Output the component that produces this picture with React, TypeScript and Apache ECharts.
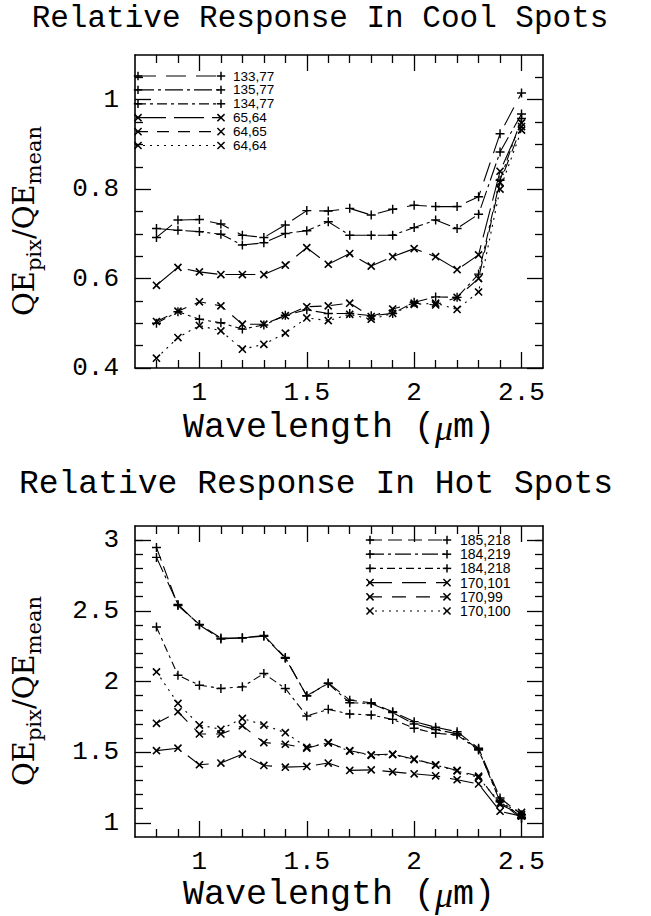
import React, { useEffect, useRef } from 'react';
import * as echarts from 'echarts';

// ---------- data ----------
const wavelengths = [0.8, 0.9, 1.0, 1.1, 1.2, 1.3, 1.4, 1.5, 1.6, 1.7, 1.8, 1.9, 2.0, 2.1, 2.2, 2.3, 2.4, 2.5];

const coolNames = ['133,77', '135,77', '134,77', '65,64', '64,65', '64,64'];
const coolMarkers = ['plus', 'plus', 'plus', 'cross', 'cross', 'cross'];
const cool_133_77 = [0.692, 0.731, 0.732, 0.722, 0.697, 0.692, 0.720, 0.752, 0.751, 0.757, 0.742, 0.755, 0.764, 0.761, 0.761, 0.783, 0.924, 1.015];
const cool_135_77 = [0.712, 0.708, 0.705, 0.699, 0.675, 0.680, 0.701, 0.707, 0.727, 0.697, 0.697, 0.697, 0.714, 0.731, 0.712, 0.744, 0.883, 0.968];
const cool_134_77 = [0.500, 0.526, 0.509, 0.501, 0.487, 0.496, 0.518, 0.530, 0.522, 0.522, 0.517, 0.522, 0.547, 0.559, 0.558, 0.610, 0.820, 0.958];
const cool_65_64 = [0.585, 0.625, 0.615, 0.609, 0.609, 0.609, 0.630, 0.669, 0.632, 0.656, 0.628, 0.649, 0.667, 0.649, 0.620, 0.653, 0.840, 0.948];
const cool_64_65 = [0.504, 0.527, 0.548, 0.539, 0.498, 0.498, 0.517, 0.537, 0.539, 0.545, 0.515, 0.532, 0.545, 0.541, 0.558, 0.600, 0.815, 0.940];
const cool_64_64 = [0.422, 0.468, 0.495, 0.483, 0.442, 0.453, 0.478, 0.512, 0.506, 0.520, 0.509, 0.522, 0.542, 0.545, 0.531, 0.570, 0.800, 0.932];

const hotNames = ['185,218', '184,219', '184,218', '170,101', '170,99', '170,100'];
const hotMarkers = ['plus', 'plus', 'plus', 'cross', 'cross', 'cross'];
const hot_185_218 = [2.948, 2.537, 2.404, 2.307, 2.307, 2.326, 2.170, 1.897, 1.990, 1.868, 1.850, 1.786, 1.716, 1.676, 1.645, 1.528, 1.176, 1.058];
const hot_184_219 = [2.878, 2.545, 2.400, 2.300, 2.310, 2.320, 2.165, 1.900, 1.985, 1.850, 1.845, 1.780, 1.700, 1.660, 1.630, 1.520, 1.150, 1.030];
const hot_184_218 = [2.385, 2.044, 1.974, 1.951, 1.962, 2.056, 1.951, 1.756, 1.803, 1.770, 1.763, 1.732, 1.669, 1.634, 1.622, 1.515, 1.160, 1.040];
const hot_170_101 = [1.511, 1.528, 1.411, 1.423, 1.486, 1.406, 1.394, 1.399, 1.423, 1.371, 1.375, 1.361, 1.347, 1.333, 1.305, 1.275, 1.082, 1.047];
const hot_170_99 = [1.704, 1.786, 1.629, 1.629, 1.687, 1.568, 1.556, 1.528, 1.568, 1.511, 1.481, 1.486, 1.451, 1.411, 1.371, 1.330, 1.130, 1.060];
const hot_170_100 = [2.068, 1.845, 1.692, 1.662, 1.739, 1.692, 1.638, 1.535, 1.565, 1.508, 1.478, 1.483, 1.448, 1.408, 1.368, 1.320, 1.141, 1.075];

const xMajorTicks = [1, 1.5, 2, 2.5];
const xMinorTicks = [0.8, 0.9, 1.1, 1.2, 1.3, 1.4, 1.6, 1.7, 1.8, 1.9, 2.1, 2.2, 2.3, 2.4];
const coolYMajor = [0.4, 0.6, 0.8, 1];
const coolYMinor = [0.45, 0.5, 0.55, 0.65, 0.7, 0.75, 0.85, 0.9, 0.95, 1.05];
const hotYMajor = [1, 1.5, 2, 2.5, 3];
const hotYMinor = [1.1, 1.2, 1.3, 1.4, 1.6, 1.7, 1.8, 1.9, 2.1, 2.2, 2.3, 2.4, 2.6, 2.7, 2.8, 2.9, 3.0];

const coolTitle = 'Relative Response In Cool Spots';
const hotTitle = 'Relative Response In Hot Spots';

// ---------- styles ----------
const coolDashes = [[20, 10], [18, 4, 3, 4], [10, 4, 3, 4], [30, 8], [12, 9], [2, 5]];
const hotDashes = [[14, 6], [16, 4, 3, 4], [8, 4, 3, 4], [24, 10], [14, 10], [2, 5]];

const PLUS = 'path://M4.2,0H5.8V4.2H10V5.8H5.8V10H4.2V5.8H0V4.2H4.2Z';
const MONO = '"Liberation Mono", monospace';

const G_LEFT = 135;
const G_WIDTH = 408;
const COOL_TOP = 55;
const COOL_H = 313;
const HOT_TOP = 526;
const HOT_H = 311;

function buildSeries(values: number[][], names: string[], markers: string[], dashes: number[][], idx: number) {
  return values.map((vals, i) => ({
    type: 'line',
    name: names[i],
    xAxisIndex: idx,
    yAxisIndex: idx,
    data: wavelengths.map((w, j) => [w, vals[j]]),
    symbol: PLUS,
    symbolSize: markers[i] === 'plus' ? 9 : 10,
    symbolRotate: markers[i] === 'cross' ? 45 : 0,
    showSymbol: true,
    itemStyle: { color: '#000' },
    lineStyle: { color: '#000', width: 1.1, type: dashes[i] },
    silent: true,
  }));
}

function xAxesFor(grid: number, main: boolean) {
  const ticks = main ? xMajorTicks : xMinorTicks;
  const len = main ? 16 : 8;
  const base = {
    type: 'value', gridIndex: grid, min: 0.7, max: 2.6,
    splitLine: { show: false },
    axisLine: { show: main, onZero: false, lineStyle: { color: '#000', width: 1.6 } },
    axisTick: { show: true, inside: true, length: len, customValues: ticks, lineStyle: { color: '#000', width: 1.3 } },
  };
  return [
    { ...base, position: 'bottom',
      axisLabel: main
        ? { show: true, customValues: xMajorTicks, margin: 12, color: '#000', fontFamily: MONO, fontSize: 26, lineHeight: 26 }
        : { show: false } },
    { ...base, position: 'top', axisLabel: { show: false } },
  ];
}

function yAxesFor(grid: number, main: boolean, min: number, max: number, major: number[], minor: number[]) {
  const ticks = main ? major : minor;
  const len = main ? 16 : 8;
  const base = {
    type: 'value', gridIndex: grid, min, max,
    splitLine: { show: false },
    axisLine: { show: main, onZero: false, lineStyle: { color: '#000', width: 1.6 } },
    axisTick: { show: true, inside: true, length: len, customValues: ticks, lineStyle: { color: '#000', width: 1.3 } },
  };
  return [
    { ...base, position: 'left',
      axisLabel: main
        ? { show: true, customValues: major, margin: 16, color: '#000', fontFamily: MONO, fontSize: 26 }
        : { show: false } },
    { ...base, position: 'right', axisLabel: { show: false } },
  ];
}

function markerGraphics(kind: string, x: number, y: number) {
  const r = 4.2;
  const st = { stroke: '#000', lineWidth: 1.5 };
  if (kind === 'plus') {
    return [
      { type: 'line', shape: { x1: x - r, y1: y, x2: x + r, y2: y }, style: st },
      { type: 'line', shape: { x1: x, y1: y - r, x2: x, y2: y + r }, style: st },
    ];
  }
  const d = r * 0.85;
  return [
    { type: 'line', shape: { x1: x - d, y1: y - d, x2: x + d, y2: y + d }, style: st },
    { type: 'line', shape: { x1: x - d, y1: y + d, x2: x + d, y2: y - d }, style: st },
  ];
}

function legendGraphics(names: string[], markers: string[], dashes: number[][], x1: number, x2: number, tx: number, y0: number, dy: number, fs: number) {
  const out: any[] = [];
  names.forEach((n, i) => {
    const y = y0 + i * dy;
    out.push({ type: 'line', shape: { x1, y1: y, x2, y2: y }, style: { stroke: '#000', lineWidth: 1.2, lineDash: dashes[i] } });
    out.push(...markerGraphics(markers[i], x1 + 2, y));
    out.push(...markerGraphics(markers[i], x2, y));
    out.push({
      type: 'text', x: tx, y,
      style: { text: n, fill: '#000', fontFamily: '"Liberation Sans", sans-serif', fontSize: fs, lineHeight: fs,
        align: 'left', verticalAlign: 'middle', textAlign: 'left', textVerticalAlign: 'middle' },
    });
  });
  return out;
}

function centeredText(text: string, x: number, y: number, size: number, rich?: any) {
  return {
    type: 'text', x, y,
    style: { text, fill: '#000', fontFamily: MONO, fontSize: size, lineHeight: size, rich,
      align: 'center', verticalAlign: 'middle', textAlign: 'center', textVerticalAlign: 'middle' },
  };
}

function yLabel(x: number, y: number) {
  return {
    type: 'text', x, y, rotation: Math.PI / 2,
    style: {
      text: '{b|QE}{s|pix}{b|/QE}{s|mean}',
      fill: '#000',
      align: 'center', verticalAlign: 'middle', textAlign: 'center', textVerticalAlign: 'middle',
      rich: {
        b: { fontFamily: '"DejaVu Serif", serif', fontSize: 29, lineHeight: 40, fill: '#000' },
        s: { fontFamily: '"DejaVu Serif", serif', fontSize: 21, lineHeight: 16, verticalAlign: 'bottom', fill: '#000' },
      },
    },
  };
}

const xNameRich = {
  t: { fontFamily: MONO, fontSize: 35, lineHeight: 33, fill: '#000' },
  mu: { fontFamily: '"Liberation Serif", serif', fontStyle: 'italic', fontSize: 36, lineHeight: 33, fill: '#000' },
};

export default function App() {
  const ref = useRef<HTMLDivElement>(null);
  useEffect(() => {
    if (!ref.current) return;
    const chart = echarts.init(ref.current, undefined, { renderer: 'svg' });
    const coolValues = [cool_133_77, cool_135_77, cool_134_77, cool_65_64, cool_64_65, cool_64_64];
    const hotValues = [hot_185_218, hot_184_219, hot_184_218, hot_170_101, hot_170_99, hot_170_100];

    const option: any = {
      animation: false,
      backgroundColor: '#fff',
      grid: [
        { left: G_LEFT, top: COOL_TOP, width: G_WIDTH, height: COOL_H },
        { left: G_LEFT, top: COOL_TOP, width: G_WIDTH, height: COOL_H },
        { left: G_LEFT, top: HOT_TOP, width: G_WIDTH, height: HOT_H },
        { left: G_LEFT, top: HOT_TOP, width: G_WIDTH, height: HOT_H },
      ],
      xAxis: [
        ...xAxesFor(0, true), ...xAxesFor(1, false),
        ...xAxesFor(2, true), ...xAxesFor(3, false),
      ],
      yAxis: [
        ...yAxesFor(0, true, 0.4, 1.1, coolYMajor, coolYMinor), ...yAxesFor(1, false, 0.4, 1.1, coolYMajor, coolYMinor),
        ...yAxesFor(2, true, 0.9, 3.1, hotYMajor, hotYMinor), ...yAxesFor(3, false, 0.9, 3.1, hotYMajor, hotYMinor),
      ],
      series: [
        ...buildSeries(coolValues, coolNames, coolMarkers, coolDashes, 0),
        ...buildSeries(hotValues, hotNames, hotMarkers, hotDashes, 4),
      ],
      graphic: [
        centeredText(coolTitle, 320, 18, 31),
        centeredText(hotTitle, 316, 484, 33),
        centeredText('{t|Wavelength (}{mu|μ}{t|m)}', 339, 428, 35, xNameRich),
        centeredText('{t|Wavelength (}{mu|μ}{t|m)}', 339, 895, 35, xNameRich),
        yLabel(24, 221),
        yLabel(24, 691),
        ...legendGraphics(coolNames, coolMarkers, coolDashes, 136, 221, 233, 76, 13.9, 13.5),
        ...legendGraphics(hotNames, hotMarkers, hotDashes, 368, 447, 460, 540, 14.2, 14),
      ],
    };
    chart.setOption(option);
    return () => chart.dispose();
  }, []);
  return <div ref={ref} style={{ position: 'absolute', left: 0, top: 0, width: 651, height: 916, background: '#fff' }} />;
}
